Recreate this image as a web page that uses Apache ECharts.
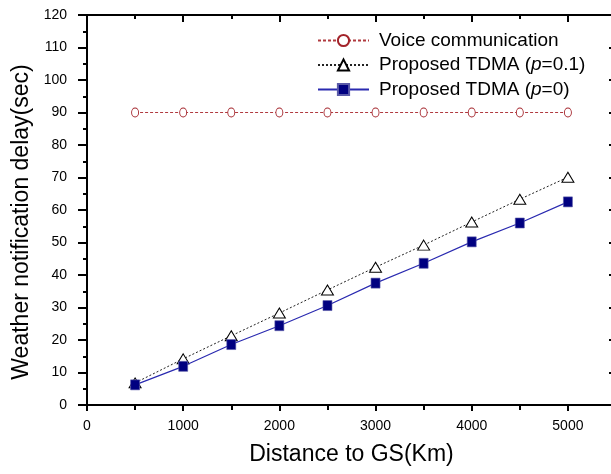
<!DOCTYPE html>
<html>
<head>
<meta charset="utf-8">
<script src="https://cdn.jsdelivr.net/npm/echarts@6/dist/echarts.min.js"></script>
<style>
html,body{margin:0;padding:0;background:#fff;}
#c{width:611px;height:474px;}
</style>
</head>
<body>
<div id="c"></div>
<script>
const distances = [500, 1000, 1500, 2000, 2500, 3000, 3500, 4000, 4500, 5000];
const voiceDelay = [90, 90, 90, 90, 90, 90, 90, 90, 90, 90];
const tdmaP01Delay = [6.8, 14.2, 21.3, 28.3, 35.4, 42.4, 49.2, 56.3, 63.3, 70.1];
const tdmaP0Delay = [6.2, 11.9, 18.6, 24.4, 30.6, 37.5, 43.6, 50.2, 56.0, 62.5];
const seriesNames = ['Voice communication', 'Proposed TDMA (p=0.1)', 'Proposed TDMA (p=0)'];
const xTitle = 'Distance to GS(Km)';
const yTitle = 'Weather notification delay(sec)';

const FONT = 'Liberation Sans, Arial, sans-serif';
const pairs = arr => distances.map((d, i) => [d, arr[i]]);

const chart = echarts.init(document.getElementById('c'), null, {renderer: 'canvas'});
chart.setOption({
  animation: false,
  backgroundColor: '#ffffff',
  grid: {left: 87, top: 15, width: 529, height: 390, outerBoundsMode: 'none', containLabel: false},
  legend: {
    orient: 'vertical',
    left: 317,
    top: 31,
    itemWidth: 51,
    itemHeight: 14,
    itemGap: 5.5,
    padding: 0,
    data: seriesNames,
    formatter: n => n.replace('(p=', '({i|p}='),
    textStyle: {
      fontFamily: FONT, fontSize: 19, color: '#000', padding: [0, 0, 0, 5],
      rich: {i: {fontFamily: FONT, fontSize: 19, fontStyle: 'italic', color: '#000'}}
    }
  },
  xAxis: [{
    type: 'value', position: 'bottom', min: 0, max: 5500, interval: 1000,
    name: xTitle, nameLocation: 'middle', nameGap: 38,
    nameTextStyle: {fontFamily: FONT, fontSize: 23, color: '#000'},
    axisLine: {onZero: false, lineStyle: {color: '#000', width: 2}},
    axisTick: {inside: false, length: 6, lineStyle: {color: '#000', width: 2}},
    minorTick: {show: true, splitNumber: 2, length: 5, lineStyle: {color: '#000', width: 2}},
    axisLabel: {fontFamily: FONT, fontSize: 14, color: '#000', margin: 14,
      formatter: v => v > 5000 ? '' : String(v)},
    splitLine: {show: false}
  }, {
    type: 'value', position: 'top', min: 0, max: 5500, interval: 1000,
    axisLine: {onZero: false, lineStyle: {color: '#000', width: 2}},
    axisTick: {inside: true, length: 7, lineStyle: {color: '#000', width: 2}},
    minorTick: {show: true, splitNumber: 2, length: 4, lineStyle: {color: '#000', width: 2}},
    axisLabel: {show: false},
    splitLine: {show: false}
  }],
  yAxis: [{
    type: 'value', position: 'left', min: 0, max: 120, interval: 10,
    name: yTitle, nameLocation: 'middle', nameGap: 48, nameRotate: 90,
    nameTextStyle: {fontFamily: FONT, fontSize: 23, color: '#000', padding: [0, 24, 0, 0]},
    axisLine: {onZero: false, lineStyle: {color: '#000', width: 2}},
    axisTick: {inside: false, length: 9, lineStyle: {color: '#000', width: 2}},
    minorTick: {show: true, splitNumber: 2, length: 4, lineStyle: {color: '#000', width: 2}},
    axisLabel: {fontFamily: FONT, fontSize: 14, color: '#000', margin: 20},
    splitLine: {show: false}
  }, {
    type: 'value', position: 'right', min: 0, max: 120, interval: 10,
    axisLine: {onZero: false, lineStyle: {color: '#000', width: 2}},
    axisTick: {inside: true, length: 7, lineStyle: {color: '#000', width: 2}},
    minorTick: {show: true, splitNumber: 2, length: 4, lineStyle: {color: '#000', width: 2}},
    axisLabel: {show: false},
    splitLine: {show: false}
  }],
  series: [{
    name: seriesNames[0], type: 'line', data: pairs(voiceDelay),
    symbol: 'circle', symbolSize: [7, 9],
    itemStyle: {color: '#ffffff', borderColor: '#a3232a', borderWidth: 1},
    lineStyle: {color: '#b03a3f', width: 1, type: [3, 2]}
  }, {
    name: seriesNames[1], type: 'line', data: pairs(tdmaP01Delay),
    symbol: 'triangle', symbolSize: [12, 10],
    itemStyle: {color: '#ffffff', borderColor: '#000000', borderWidth: 1},
    lineStyle: {color: '#222222', width: 1, type: [2, 2]},
    z: 3
  }, {
    name: seriesNames[2], type: 'line', data: pairs(tdmaP0Delay),
    symbol: 'rect', symbolSize: [9, 10],
    itemStyle: {color: '#000080', borderColor: '#5a5aa8', borderWidth: 0.6},
    lineStyle: {color: '#2a2ab0', width: 1.2, type: 'solid'},
    z: 4
  }]
});
</script>
</body>
</html>
